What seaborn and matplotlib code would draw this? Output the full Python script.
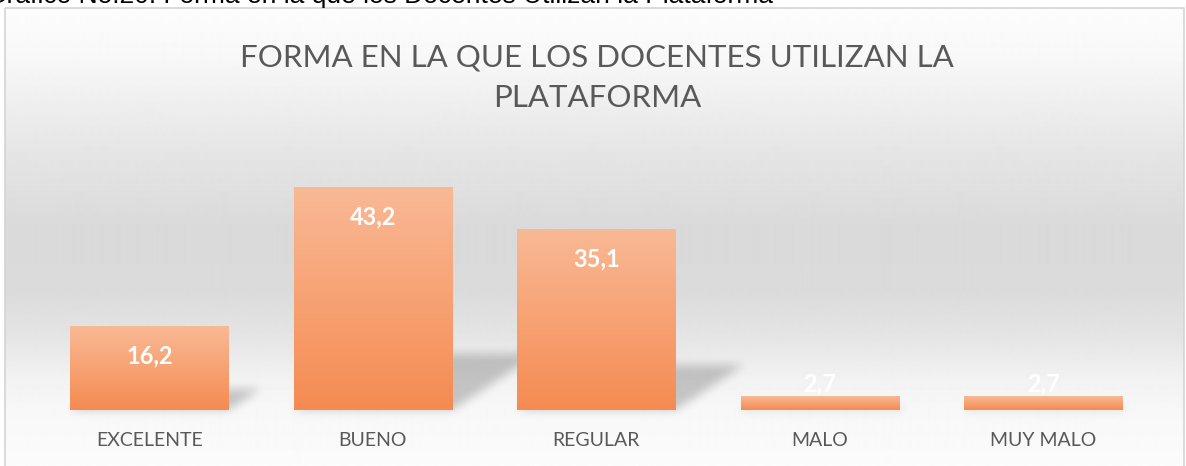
import numpy as np
import matplotlib
matplotlib.use("Agg")
import matplotlib.pyplot as plt
import seaborn as sns
from matplotlib.colors import LinearSegmentedColormap
from matplotlib.patches import Rectangle
from matplotlib.path import Path

# ---- data ----
categories = ["EXCELENTE", "BUENO", "REGULAR", "MALO", "MUY MALO"]
values = [16.2, 43.2, 35.1, 2.7, 2.7]
value_labels = ["16,2", "43,2", "35,1", "2,7", "2,7"]
title = "FORMA EN LA QUE LOS DOCENTES UTILIZAN LA\nPLATAFORMA"
caption = "Gráfico No.20: Forma en la que los Docentes Utilizan la Plataforma"

sns.set_theme(style="white")
plt.rcParams["font.family"] = ["Lato", "DejaVu Sans"]

W, H = 1186, 466
fig = plt.figure(figsize=(W / 100, H / 100), dpi=100)

# ---- background (gray gradient + frame) ----
bg = fig.add_axes([0, 0, 1, 1], zorder=0)
stops_y = [8, 60, 150, 230, 290, 340, 360, 380, 410, 466]
stops_v = [0.99, 0.97, 0.90, 0.852, 0.858, 0.90, 0.925, 0.95, 0.97, 0.985]
rows = np.interp(np.arange(8, H), stops_y, stops_v)
bg.imshow(np.tile(rows[:, None], (1, 2)), cmap="gray", vmin=0, vmax=1,
          extent=[5, 1184, H, 8], aspect="auto", interpolation="bilinear")
bg.add_patch(Rectangle((5, 8), 1179, 480, fill=False, ec="#d4d4d4", lw=1.2))
bg.set_xlim(0, W)
bg.set_ylim(H, 0)
bg.axis("off")

# figure caption above the chart, cut by the top edge as in the source
bg.text(-14, 3, caption, fontsize=19, family="Liberation Sans", color="black", va="baseline")
bg.text(597, 78, title, ha="center", va="center", fontsize=22.5, color="#595959",
        linespacing=1.54)

# ---- bars ----
ax = fig.add_axes([37.75 / W, 56 / H, (1155 - 37.75) / W, 50 * 5.16 / H], zorder=1)
ax.patch.set_alpha(0)
sns.barplot(x=categories, y=values, ax=ax, width=0.71, color="#f58d54", saturation=1)
ax.set_ylim(0, 50)
ax.set_xlim(-0.5, 4.5)
sns.despine(ax=ax, left=True, bottom=True)
ax.set_yticks([])
ax.set_xticks([])
ax.set_xlabel("")
ax.set_ylabel("")

cmap = LinearSegmentedColormap.from_list("bar", ["#f58b52", "#f9b995"])
grad = np.linspace(1, 0, 200)[:, None]
for p in ax.patches:
    x0, w, h = p.get_x(), p.get_width(), p.get_height()
    im = ax.imshow(grad, cmap=cmap, vmin=0, vmax=1, aspect="auto",
                   extent=[x0, x0 + w, 0, h], zorder=2, interpolation="bilinear")
    im.set_clip_path(p)
    p.set_edgecolor("none")
ax.set_xlim(-0.5, 4.5)
ax.set_ylim(0, 50)

# perspective shadows on the floor, drawn in figure pixels
yy, xx = np.mgrid[0:H, 0:W]
pts = np.column_stack([xx.ravel() + 0.5, yy.ravel() + 0.5])
mask = np.zeros(H * W)
for p in ax.patches:
    x0, w, h = p.get_x(), p.get_width(), p.get_height()
    dy = 0.25 * h
    dx = 0.0087 * h
    poly = ax.transData.transform([(x0, 0), (x0 + w, 0), (x0 + w + dx, dy), (x0 + dx, dy)])
    poly[:, 1] = H - poly[:, 1]
    mask = np.maximum(mask, Path(poly).contains_points(pts).astype(float))
mask = mask.reshape(H, W)
k = np.ones(9) / 9
for _ in range(3):
    mask = np.apply_along_axis(lambda r: np.convolve(r, k, mode="same"), 1, mask)
    mask = np.apply_along_axis(lambda c: np.convolve(c, k, mode="same"), 0, mask)
shadow = np.zeros((H, W, 4))
shadow[..., 3] = mask * 0.2
bg.imshow(shadow, extent=[0, W, H, 0], aspect="auto", zorder=3)
bg.set_xlim(0, W)
bg.set_ylim(H, 0)

for i, (v, lab) in enumerate(zip(values, value_labels)):
    ax.text(i, max(v - 5.8, 5.0), lab, ha="center", va="center", color="white",
            fontsize=17, fontweight="bold", zorder=4)
    ax.text(i, -31 / 5.16, categories[i], ha="center", va="center", color="#595959",
            fontsize=14, clip_on=False)

fig.savefig("out.png", dpi=100)
